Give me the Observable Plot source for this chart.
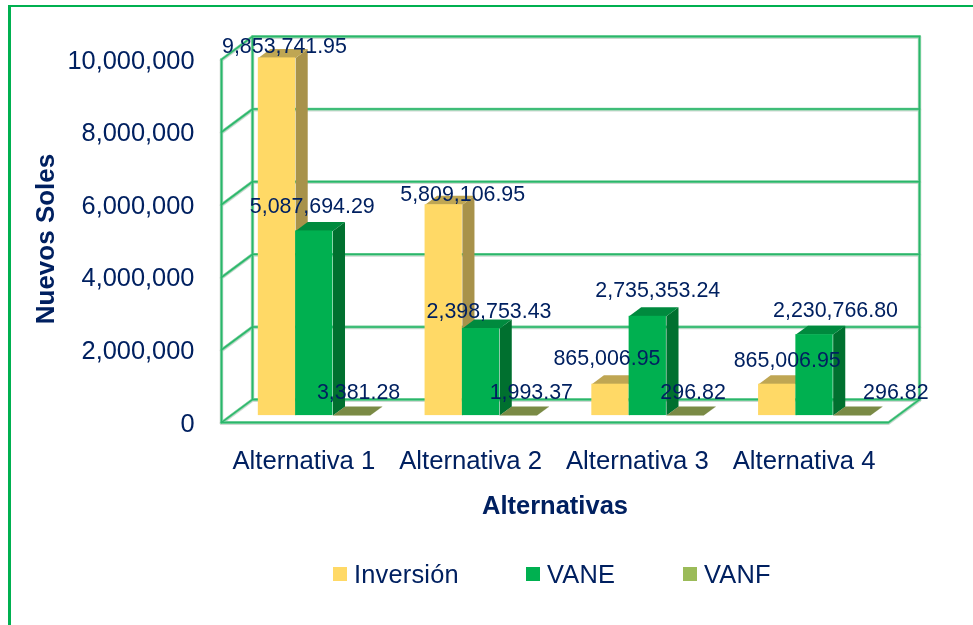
<!DOCTYPE html>
<html><head><meta charset="utf-8">
<script src="https://cdn.jsdelivr.net/npm/d3@7"></script>
<script src="https://cdn.jsdelivr.net/npm/@observablehq/plot@0.6"></script>
<style>
html,body{margin:0;padding:0;background:#fff;overflow:hidden}
body{font-family:"Liberation Sans",Arial,sans-serif;color:#002060}
#frame{position:fixed;left:8px;top:5px;right:0;bottom:0;border-left:3px solid #00B050;border-top:2.5px solid #00B050}
#chart{position:absolute;left:0;top:0}
#chart svg{display:block;background:transparent}
#legend{position:absolute;left:0;top:558px;height:32px;width:973px;font-size:25.4px;line-height:32px;letter-spacing:.2px}
.item{position:absolute;top:0;display:flex;align-items:center;white-space:nowrap}
.swatch{display:inline-block;width:14px;height:14px;margin-right:7px}
</style></head><body>
<div id="frame"></div><div id="chart"></div><div id="legend"></div>
<script>
const categories = ["Alternativa 1", "Alternativa 2", "Alternativa 3", "Alternativa 4"];
const seriesNames = ["Inversión", "VANE", "VANF"];
const inversion = [9853741.95, 5809106.95, 865006.95, 865006.95];
const vane = [5087694.29, 2398753.43, 2735353.24, 2230766.80];
const vanf = [3381.28, 1993.37, 296.82, 296.82];
const yTicks = [0, 2000000, 4000000, 6000000, 8000000, 10000000];

const ink = "#002060";
const palette = [
  {front: "#FFD966", side: "#A8924A", top: "#BFA653"},
  {front: "#00B050", side: "#00702F", top: "#008A3E"},
  {front: "#9BBB59", side: "#66783A", top: "#7A8A45"}
];
const legendColors = ["#FFD966", "#00B050", "#9BBB59"];
const legendLeft = [333, 526, 683];

// oblique projection of the chart's depth, in data units per unit of depth
const depthX = 0.186, depthY = 633600;
const project = (x, v, d) => [x + d * depthX, v + d * depthY];
// bar geometry in category units and depth
const gap = 0.165, barW = 0.2237, depthA = 0.3, depthB = 0.69;
const values = [inversion, vane, vanf];
// hand placed label nudges from the source chart [dx, dy] in px, per category then series
const nudges = [
  [[7.5, -12], [-2, -25], [7, -23]],
  [[19, -11], [8, -17], [13, -23]],
  [[-3.5, -25.6], [10, -26], [8, -23]],
  [[10, -23.6], [21, -24], [44, -23]]
];

const faces = [], fronts = [], labels = [];
seriesNames.forEach((name, s) => {
  categories.forEach((cat, i) => {
    const v = values[s][i];
    const x0 = i + gap + s * barW, x1 = x0 + barW;
    const a = (x, val) => project(x, val, depthA), b = (x, val) => project(x, val, depthB);
    const poly = (id, color, pts) => pts.forEach(p => faces.push({id, color, x: p[0], y: p[1]}));
    poly(`${s}-${i}-side`, palette[s].side, [a(x1, 0), b(x1, 0), b(x1, v), a(x1, v)]);
    poly(`${s}-${i}-top`, palette[s].top, [a(x0, v), b(x0, v), b(x1, v), a(x1, v)]);
    const [fx0, fy0] = a(x0, 0), [fx1, fy1] = a(x1, v);
    fronts.push({x1: fx0, x2: fx1, y1: fy0, y2: fy1, color: palette[s].front});
    const [lx, ly] = a(x0 + barW / 2, v);
    labels.push({x: lx, y: ly, text: d3.format(",.2f")(v), dx: nudges[i][s][0], dy: nudges[i][s][1]});
  });
});

// wireframe of the 3D walls and floor
const nCat = categories.length, yMax = yTicks[yTicks.length - 1];
const wire = [];
const seg = (pts) => { const id = wire.length; pts.forEach(p => wire.push({id, x: p[0], y: p[1]})); };
yTicks.forEach(t => seg([project(0, t, 0), project(0, t, 1), project(nCat, t, 1)]));
seg([project(0, 0, 0), project(0, yMax, 0)]);
seg([project(0, 0, 1), project(0, yMax, 1)]);
seg([project(nCat, 0, 1), project(nCat, yMax, 1)]);
seg([project(0, 0, 0), project(nCat, 0, 0), project(nCat, 0, 1)]);

const chart = Plot.plot({
  width: 973, height: 545,
  marginLeft: 221, marginRight: 85, marginTop: 59, marginBottom: 123,
  style: {background: "transparent", color: ink, fontFamily: "'Liberation Sans', Arial, sans-serif", overflow: "visible"},
  x: {domain: [0, nCat], axis: null},
  y: {domain: [0, yMax], axis: null},
  color: {type: "identity"},
  marks: [
    Plot.line(wire, {x: "x", y: "y", z: "id", stroke: "#cfd8d2", strokeWidth: 3.6, strokeLinejoin: "miter", dy: 0.6}),
    Plot.line(wire, {x: "x", y: "y", z: "id", stroke: "#7ed6a2", strokeWidth: 2.8, strokeLinejoin: "miter"}),
    Plot.line(wire, {x: "x", y: "y", z: "id", stroke: "#2bb56b", strokeWidth: 1.5, strokeLinejoin: "miter"}),
    Plot.line(faces, {x: "x", y: "y", z: "id", fill: "color", stroke: null}),
    Plot.rect(fronts, {x1: "x1", x2: "x2", y1: "y1", y2: "y2", fill: "color"}),
    Plot.axisY({ticks: yTicks, tickFormat: d3.format(","), tickSize: 0, tickPadding: 27, fontSize: 25.4, label: null, dy: 1}),
    Plot.axisX({ticks: categories.map((c, i) => i + 0.5), tickFormat: x => categories[Math.floor(x)], tickSize: 0, tickPadding: 28.5, fontSize: 25.7, label: null, dx: -1}),
    ...labels.map(l => Plot.text([l], {x: "x", y: "y", text: "text", dx: l.dx, dy: l.dy, fontSize: 21.4, fill: ink})),
    Plot.text(["Nuevos Soles"], {frameAnchor: "left", textAnchor: "middle", dx: -176, dy: -2, rotate: -90, fontSize: 26, fontWeight: "bold", fill: ink}),
    Plot.text(["Alternativas"], {frameAnchor: "bottom", dy: 91, fontSize: 25.5, fontWeight: "bold", fill: ink})
  ]
});
document.getElementById("chart").append(chart);

const legend = document.getElementById("legend");
seriesNames.forEach((name, i) => {
  const item = document.createElement("div");
  item.className = "item";
  item.style.left = legendLeft[i] + "px";
  const sw = document.createElement("span");
  sw.className = "swatch";
  sw.style.background = legendColors[i];
  item.append(sw, document.createTextNode(name));
  legend.append(item);
});
</script>
</body></html>
